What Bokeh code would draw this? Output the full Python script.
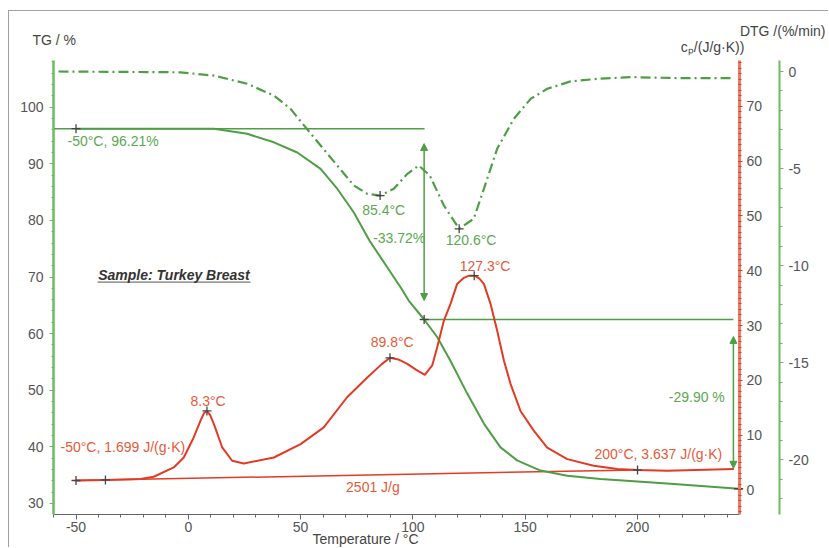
from bokeh.plotting import figure
from bokeh.models import (Range1d, LinearAxis, SingleIntervalTicker, Label, Arrow,
                          NormalHead, CustomJSTickFormatter)
from bokeh.embed import file_html
from bokeh.resources import INLINE

# ---------------- data ----------------
# TG curve (%), left axis
TG_T = [-50, -3.5, 11.4, 26.2, 38.1, 48.5, 58.9, 66.3, 73.7, 80.7, 94.5, 98.2, 105,
        110.8, 116.7, 124.2, 131.6, 139, 146.4, 156.8, 168.7, 183.5, 213.2, 245]
TG_V = [96.21, 96.21, 96.2, 95.3, 93.8, 92.0, 89.1, 85.6, 81.4, 76.4, 68.2, 65.8, 62.49,
        59.4, 55.2, 49.4, 44.1, 39.9, 37.6, 35.8, 34.9, 34.3, 33.5, 32.59]

# DTG curve (%/min), outer right axis
DTG_T = [-57.8, -3.5, 11.4, 26.2, 38.1, 45.5, 52.2, 58.9, 66.3, 73.7, 79.7, 85.4, 91.5,
         97.5, 102.6, 107.5, 113.8, 120.6, 127.1, 131.6, 137.5, 144.9, 152.4, 159.8,
         170.2, 182.1, 196.9, 219.1, 241.4]
DTG_V = [0.0, -0.04, -0.21, -0.63, -1.24, -1.92, -2.87, -3.81, -4.84, -5.87, -6.30, -6.39,
         -6.04, -5.27, -4.84, -5.35, -6.90, -8.10, -7.58, -6.04, -3.98, -2.44, -1.41,
         -0.89, -0.51, -0.38, -0.29, -0.34, -0.34]

# cp curve (J/(g·K)), inner right axis
CP_T = [-50, -36.9, -21.3, -15.4, -6.5, -2.0, 2.4, 5.4, 7.0, 8.3, 9.8, 11.4, 15.1, 19.5,
        24.7, 38.1, 50, 60.3, 70.7, 79.7, 86.0, 89.8, 93.5, 97.5, 101.5, 105.3, 108.6,
        110.8, 113.8, 116.7, 119.7, 122.7, 125.0, 127.3, 129.5, 131.6, 134.6, 137.5, 140.5,
        143.5, 147.9, 153.8, 159.8, 168.7, 180.5, 191, 200, 213.2, 242.9]
CP_V = [1.70, 1.80, 1.96, 2.38, 4.08, 5.9, 9.56, 12.6, 14.0, 14.4, 13.6, 12.0, 7.73, 5.3,
        4.8, 5.9, 8.35, 11.4, 16.9, 20.5, 22.9, 24.1, 23.8, 23.0, 21.9, 21.0, 22.7,
        26.0, 30.9, 33.9, 37.6, 38.7, 39.1, 39.1, 38.6, 37.6, 33.9, 29.1, 23.6,
        19.3, 14.4, 10.8, 7.7, 5.6, 4.4, 3.8, 3.637, 3.5, 3.8]

# integration baseline of cp
BASE_T = [-50, 200]
BASE_V = [1.699, 3.637]

# evaluation points
TG_PTS_T = [-50, 105, 245]
TG_PTS_V = [96.21, 62.49, 32.59]
DTG_PTS_T = [85.4, 120.6]
DTG_PTS_V = [-6.39, -8.10]
CP_PTS_T = [-50, -36.9, 8.3, 89.8, 127.3, 200]
CP_PTS_V = [1.699, 1.80, 14.4, 24.1, 39.1, 3.637]

# TG step levels
STEP1_T = [-60, 105.2]
STEP1_V = [96.21, 96.21]
STEP2_T = [105.2, 242.7]
STEP2_V = [62.49, 62.49]

# axis extents (data units) and axis positions
X_BOUNDS = (-60.0, 245.4)
TG_BOUNDS = (28.04, 108.25)
CP_BOUNDS = (-4.51, 78.4)
DTG_BOUNDS = (-22.81, 0.566)
DTG_AXIS_X = 263.2

# ---------------- styling ----------------
GREEN = "#4e9e45"
GREEN_TXT = "#5ca852"
GREEN_AX = "#6dbb62"
RED = "#e23b25"
RED_TXT = "#e65a3a"
RED_AX = "#ee7b63"
GRAY_TXT = "#555555"
FONT = "Liberation Sans"

p = figure(width=820, height=537, output_backend="svg", toolbar_location=None,
           x_range=Range1d(-79.61, 285.48), y_range=Range1d(22.03, 116.91),
           min_border_left=0, min_border_right=0, min_border_top=0,
           min_border_bottom=0)
p.styles = {"margin-left": "8px", "margin-top": "10px",
            "border-left": "1px solid #a0a0a0", "border-top": "1px solid #a0a0a0"}
p.grid.visible = False
p.outline_line_color = None
p.xaxis.visible = False
p.yaxis.visible = False

p.extra_y_ranges = {"cp": Range1d(-10.72, 87.34), "dtg": Range1d(-24.56, 3.09)}


def fmt():
    return CustomJSTickFormatter(code="return tick.toFixed(0);")


def style_labels(ax):
    ax.formatter = fmt()
    ax.major_label_text_font = FONT
    ax.major_label_text_font_size = "14px"
    ax.major_label_text_color = GRAY_TXT


# x axis
xa = LinearAxis(ticker=SingleIntervalTicker(interval=50, num_minor_ticks=5),
                fixed_location=TG_BOUNDS[0], bounds=X_BOUNDS)
xa.axis_line_color = "#666666"
xa.major_tick_line_color = "#666666"
xa.minor_tick_line_color = "#666666"
xa.major_tick_out = 5
xa.major_tick_in = 0
xa.minor_tick_out = 3
xa.minor_tick_in = 0
style_labels(xa)
xa.major_label_standoff = 3
p.add_layout(xa, "below")

# TG axis (left)
ya = LinearAxis(ticker=SingleIntervalTicker(interval=10, num_minor_ticks=5),
                fixed_location=X_BOUNDS[0], bounds=TG_BOUNDS)
ya.axis_line_color = GREEN_AX
ya.axis_line_width = 2.5
ya.major_tick_line_color = GREEN_AX
ya.minor_tick_line_color = GREEN_AX
ya.major_tick_out = 4
ya.major_tick_in = 0
ya.minor_tick_out = 2
ya.minor_tick_in = 1
style_labels(ya)
ya.major_label_standoff = 6
p.add_layout(ya, "left")

# cp axis (inner right)
ca = LinearAxis(y_range_name="cp", ticker=SingleIntervalTicker(interval=10, num_minor_ticks=10),
                fixed_location=X_BOUNDS[1], bounds=CP_BOUNDS)
ca.axis_line_color = RED_AX
ca.axis_line_width = 3
ca.major_tick_line_color = RED
ca.minor_tick_line_color = RED
ca.major_tick_out = 3
ca.major_tick_in = 1
ca.minor_tick_out = 2
ca.minor_tick_in = 1
style_labels(ca)
ca.major_label_standoff = 4
p.add_layout(ca, "right")

# DTG axis (outer right)
da = LinearAxis(y_range_name="dtg", ticker=SingleIntervalTicker(interval=5, num_minor_ticks=5),
                fixed_location=DTG_AXIS_X, bounds=DTG_BOUNDS)
da.axis_line_color = GREEN_AX
da.axis_line_width = 2
da.major_tick_line_color = GREEN_AX
da.minor_tick_line_color = GREEN_AX
da.major_tick_out = 4
da.major_tick_in = 0
da.minor_tick_out = 3
da.minor_tick_in = 0
style_labels(da)
da.major_label_standoff = 5
p.add_layout(da, "right")

# ---------------- glyphs ----------------
p.line(STEP1_T, STEP1_V, line_color=GREEN, line_width=1.5)
p.line(STEP2_T, STEP2_V, line_color=GREEN, line_width=1.5)
p.line(BASE_T, BASE_V, line_color=RED, line_width=1.5, y_range_name="cp")

p.line(DTG_T, DTG_V, line_color=GREEN, line_width=2.2, line_dash="10 4 2 4",
       y_range_name="dtg")
p.line(TG_T, TG_V, line_color=GREEN, line_width=2)
p.line(CP_T, CP_V, line_color=RED, line_width=2, y_range_name="cp")

mk = dict(marker="cross", size=9, line_color="#444444", line_width=1.3)
p.scatter(TG_PTS_T, TG_PTS_V, **mk)
p.scatter(DTG_PTS_T, DTG_PTS_V, y_range_name="dtg", **mk)
p.scatter(CP_PTS_T, CP_PTS_V, y_range_name="cp", **mk)

# arrows for the mass-loss steps
for (ax, y0, y1) in [(105, 65.85, 93.57), (242.7, 36.2, 59.5)]:
    p.add_layout(Arrow(x_start=ax, y_start=y0, x_end=ax, y_end=y1,
                       line_color=GREEN, line_width=1.5,
                       start=NormalHead(size=7, fill_color=GREEN, line_color=GREEN),
                       end=NormalHead(size=7, fill_color=GREEN, line_color=GREEN)))

# ---------------- text ----------------
def lab(x, y, text, color, align="center", size="14px", style="normal",
        baseline="middle"):
    p.add_layout(Label(x=x, y=y, text=text, text_color=color, text_align=align,
                       text_baseline=baseline, text_font=FONT, text_font_size=size,
                       text_font_style=style))

lab(-53.8, 94.1, "-50°C, 96.21%", GREEN_TXT, align="left")
lab(87.0, 81.75, "85.4°C", GREEN_TXT)
lab(125.9, 76.6, "120.6°C", GREEN_TXT)
lab(93.9, 76.9, "-33.72%", GREEN_TXT)
lab(226.4, 48.8, "-29.90 %", GREEN_TXT)
lab(132.1, 71.9, "127.3°C", RED_TXT)
lab(90.8, 58.5, "89.8°C", RED_TXT)
lab(8.8, 48.06, "8.3°C", RED_TXT)
lab(-56.9, 39.9, "-50°C, 1.699 J/(g·K)", RED_TXT, align="left")
lab(82.2, 32.9, "2501 J/g", RED_TXT)
lab(209.3, 38.7, "200°C, 3.637 J/(g·K)", RED_TXT)
lab(-6.4, 70.4, "Sample: Turkey Breast", "#333333", size="14px", style="bold italic")
p.line([-40.4, 27.7], [69.1, 69.1], line_color="#555555", line_width=1)

# axis titles
lab(-69.37, 111.96, "TG / %", "#444444", align="left")
lab(245.6, 113.43, "DTG /(%/min)", "#444444", align="left")
lab(247.6, 110.6, "cₚ/(J/g·K))", "#444444", align="right")
lab(78.9, 22.35, "Temperature / °C", "#444444", size="14px", baseline="bottom")

open("out.html", "w").write(file_html(p, INLINE))
